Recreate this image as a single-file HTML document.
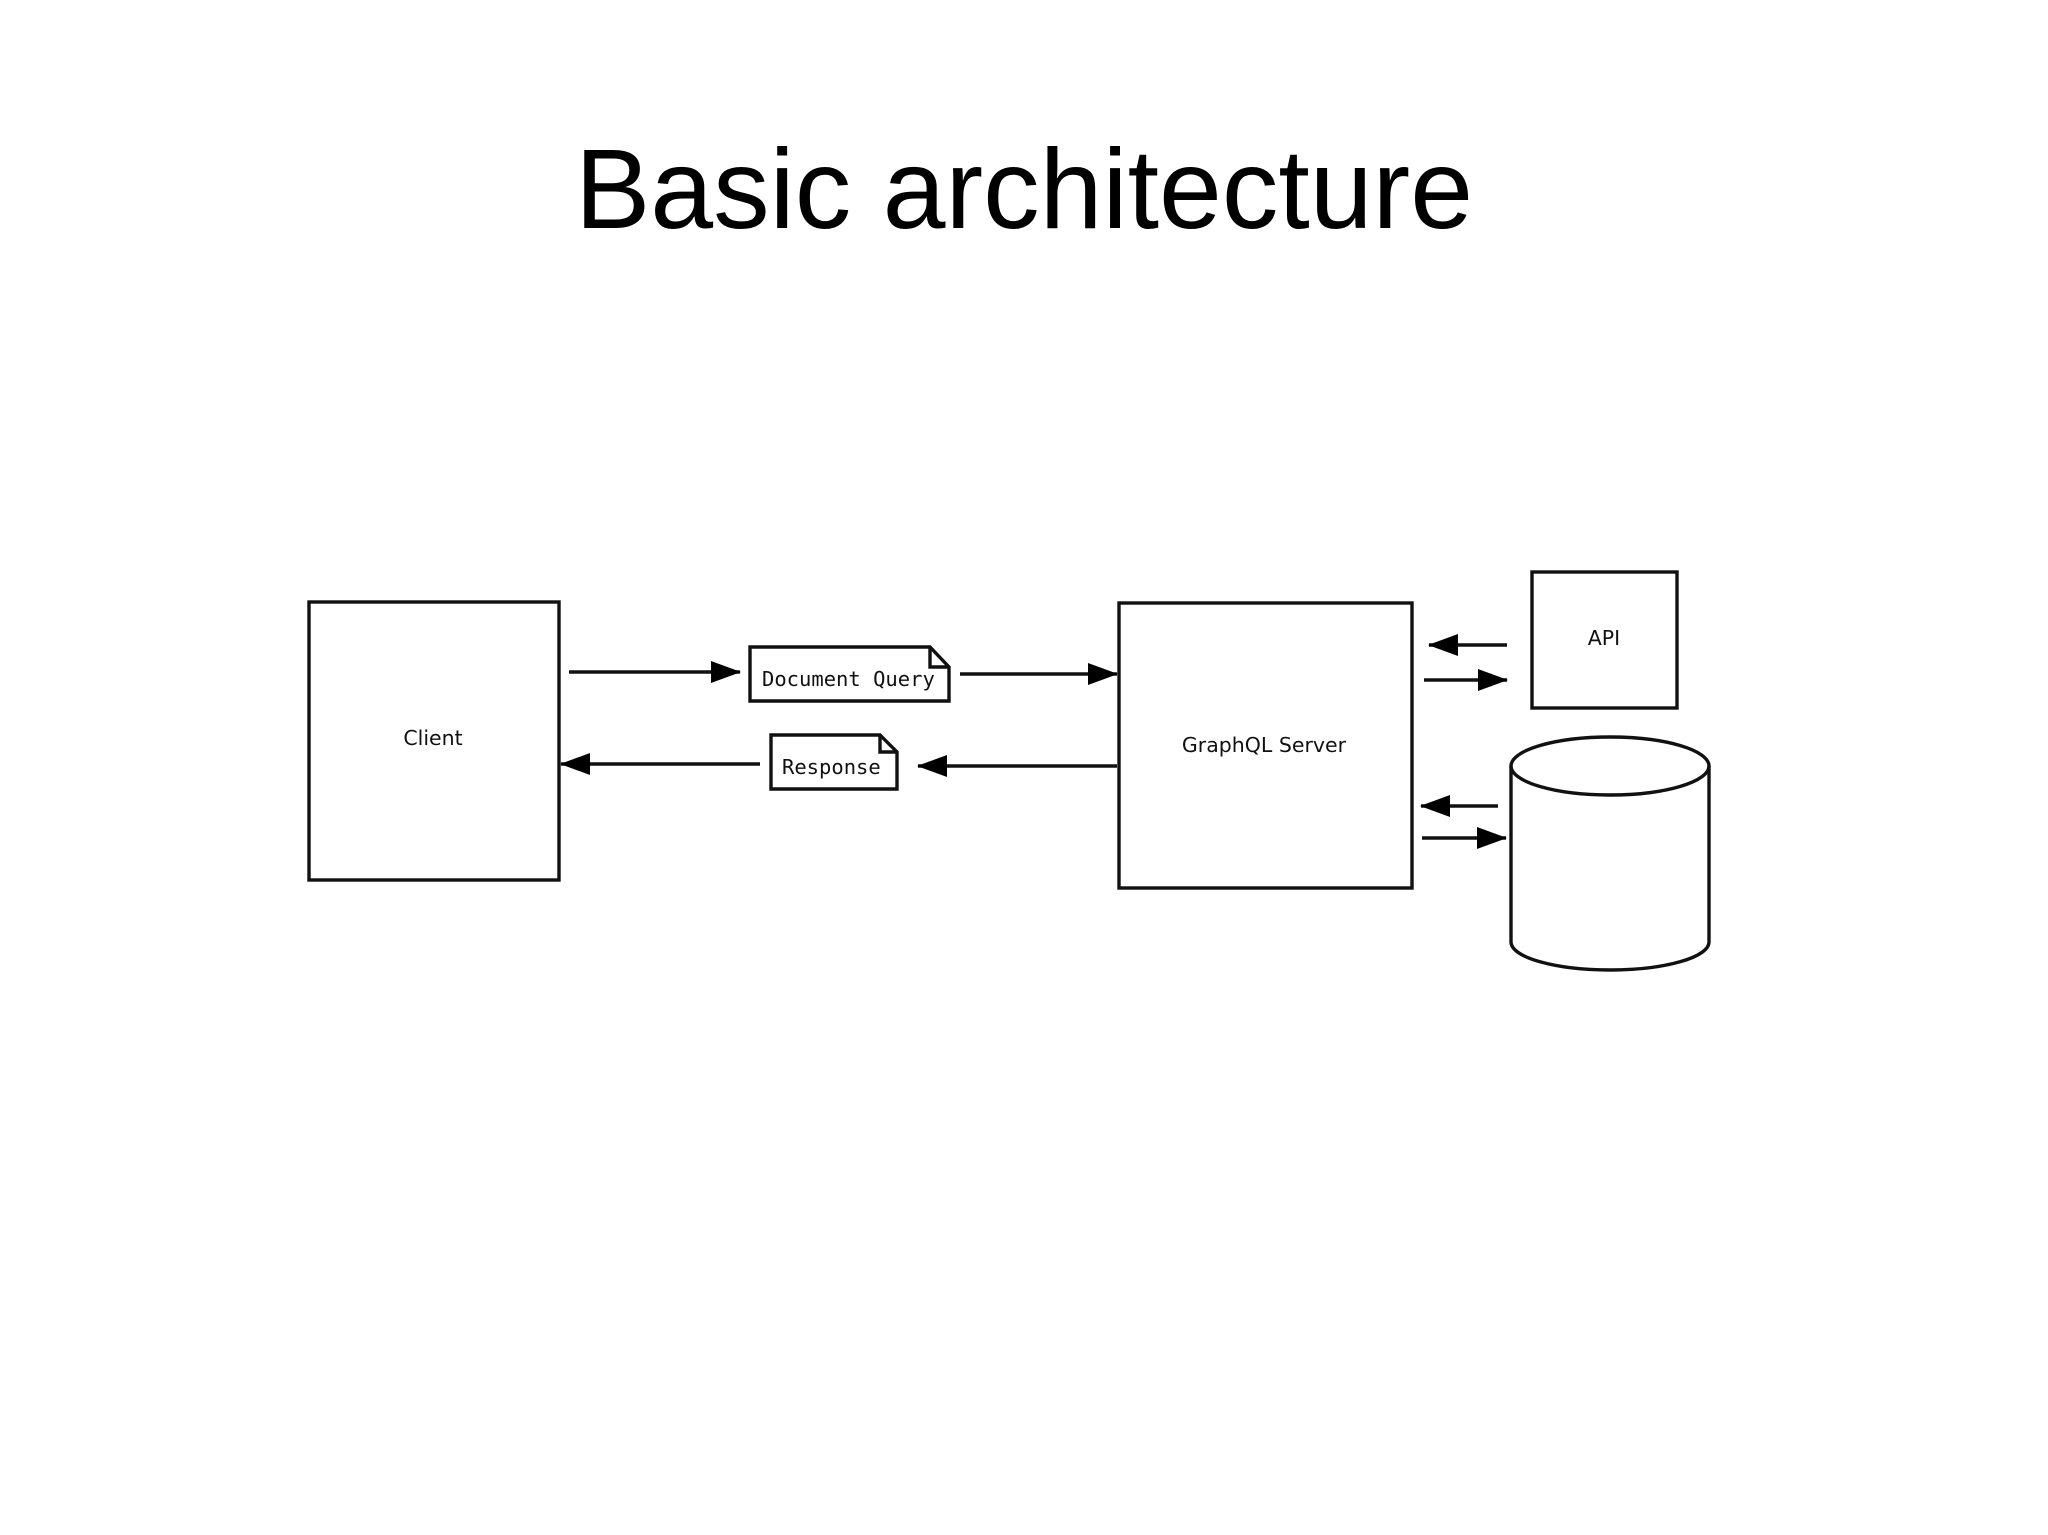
<!DOCTYPE html>
<html><head><meta charset="utf-8"><style>
html,body{margin:0;padding:0;background:#fff;}
svg{display:block;}
</style></head><body>
<svg width="2048" height="1535" viewBox="0 0 2048 1535" xmlns="http://www.w3.org/2000/svg">
<defs>
<marker id="ah" markerWidth="30" markerHeight="22" refX="29" refY="11" orient="auto" markerUnits="userSpaceOnUse">
<path d="M0,0 L30,11 L0,22 z" fill="#000"/>
</marker>
</defs>
<text x="1024" y="228" text-anchor="middle" font-family="Liberation Sans, sans-serif" font-size="113" fill="#000">Basic architecture</text>
<g fill="none" stroke="#111" stroke-width="3.4">
<rect x="309" y="602" width="250" height="278"/>
<rect x="1119" y="603" width="293" height="285"/>
<rect x="1532" y="572" width="145" height="136"/>
<path d="M750,647 H930 L949,667 V701 H750 Z" fill="#fff"/>
<path d="M930,647 V667 H949"/>
<path d="M771,735 H880 L897,752 V789 H771 Z" fill="#fff"/>
<path d="M880,735 V752 H897"/>
<path d="M1511,766 V942 A99,28 0 0 0 1709,942 V766"/>
<ellipse cx="1610" cy="766" rx="99" ry="29"/>
<line x1="569" y1="672" x2="740" y2="672" marker-end="url(#ah)"/>
<line x1="960" y1="674" x2="1117" y2="674" marker-end="url(#ah)"/>
<line x1="1117" y1="766" x2="918" y2="766" marker-end="url(#ah)"/>
<line x1="760" y1="764" x2="561" y2="764" marker-end="url(#ah)"/>
<line x1="1507" y1="645" x2="1429" y2="645" marker-end="url(#ah)"/>
<line x1="1424" y1="680" x2="1507" y2="680" marker-end="url(#ah)"/>
<line x1="1498" y1="806" x2="1421" y2="806" marker-end="url(#ah)"/>
<line x1="1422" y1="838" x2="1506" y2="838" marker-end="url(#ah)"/>
</g>
<g font-family="DejaVu Sans, sans-serif" font-size="20.5" fill="#111" text-anchor="middle">
<text x="433" y="745">Client</text>
<text x="1264" y="752">GraphQL Server</text>
<text x="1604" y="645">API</text>
</g>
<g font-family="DejaVu Sans Mono, monospace" font-size="20.5" fill="#111">
<text x="762" y="686">Document Query</text>
<text x="782" y="774">Response</text>
</g>
</svg>
</body></html>
